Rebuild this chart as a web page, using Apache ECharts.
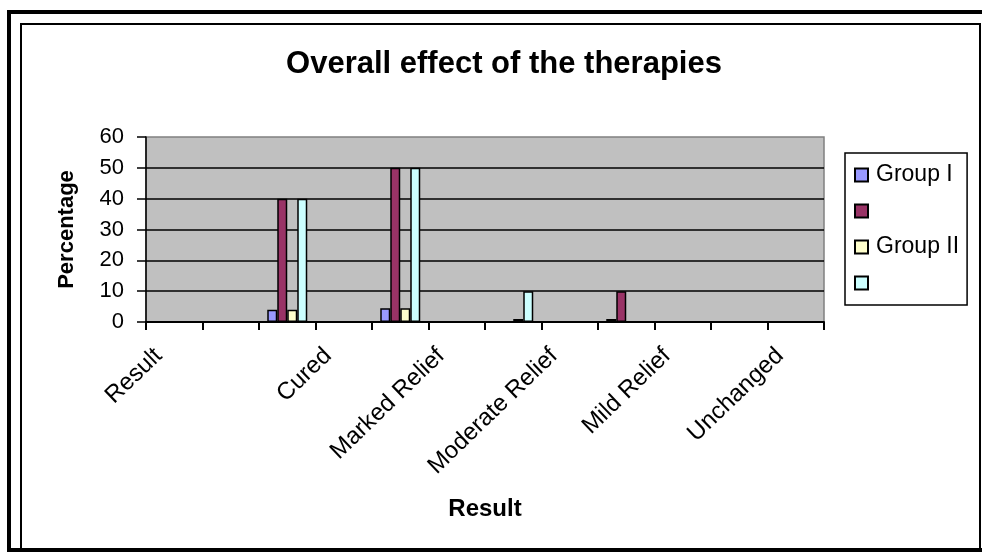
<!DOCTYPE html>
<html>
<head>
<meta charset="utf-8">
<title>Overall effect of the therapies</title>
<script src="https://cdn.jsdelivr.net/npm/echarts@6/dist/echarts.min.js"></script>
<style>
  html, body { margin: 0; padding: 0; background: #ffffff; }
  #chart { width: 982px; height: 553px; }
</style>
</head>
<body>
<div id="chart"></div>
<script>
// Twelve category slots on the x axis; labels sit on every other slot.
const tickLabels = ['Result', '', '', 'Cured', '', 'Marked Relief', '', 'Moderate Relief', '', 'Mild Relief', '', 'Unchanged'];

// Series names (two of them have no visible legend text).
const seriesNames = ['Group I', ' ', 'Group II', '  '];

// Values per slot (null = empty slot).
const groupI      = [null, null, 4,  null, 4.5, null, 0,  null, 1,  null, 0, null];
const groupIPct   = [null, null, 40, null, 50,  null, 0,  null, 10, null, 0, null];
const groupII     = [null, null, 4,  null, 4.5, null, 1,  null, 0,  null, 0, null];
const groupIIPct  = [null, null, 40, null, 50,  null, 10, null, 0,  null, 0, null];

const yTicks = { min: 0, max: 60, interval: 10 };

const seriesValues = [groupI, groupIPct, groupII, groupIIPct];
const seriesColors = ['#9999FF', '#993366', '#FFFFCC', '#CCFFFF'];

const FONT = "'Liberation Sans', Arial, sans-serif";

const chart = echarts.init(document.getElementById('chart'), null, { renderer: 'canvas' });

chart.setOption({
  backgroundColor: '#ffffff',
  animation: false,
  title: {
    text: 'Overall effect of the therapies',
    left: 499,
    top: 44,
    textAlign: 'center',
    textStyle: { fontFamily: FONT, fontSize: 31, fontWeight: 'bold', color: '#000' }
  },
  legend: {
    orient: 'vertical',
    left: 845,
    top: 153,
    data: seriesNames,
    itemWidth: 13,
    itemHeight: 13,
    itemGap: 10,
    padding: [9, 8, 9, 9],
    backgroundColor: '#ffffff',
    borderColor: '#000000',
    borderWidth: 1.5,
    borderRadius: 0,
    icon: 'rect',
    textStyle: { fontFamily: FONT, fontSize: 23, color: '#000', lineHeight: 26, padding: [0, 0, 0, 3] }
  },
  grid: {
    left: 146,
    right: 158,
    top: 137,
    bottom: 231,
    show: true,
    backgroundColor: '#C0C0C0',
    borderColor: '#808080',
    borderWidth: 1.5
  },
  xAxis: {
    type: 'category',
    data: tickLabels,
    boundaryGap: true,
    name: 'Result',
    nameLocation: 'middle',
    nameGap: 175,
    nameTextStyle: { fontFamily: FONT, fontSize: 24, fontWeight: 'bold', color: '#000' },
    axisLine: { show: true, lineStyle: { color: '#000', width: 2 } },
    axisTick: { show: true, interval: 0, length: 8, lineStyle: { color: '#000', width: 2 } },
    axisLabel: {
      interval: 0,
      rotate: 44,
      margin: 15,
      padding: [0, 22, 0, 0],
      fontFamily: FONT,
      fontSize: 24,
      color: '#000'
    },
    splitLine: { show: false }
  },
  yAxis: {
    type: 'value',
    min: yTicks.min,
    max: yTicks.max,
    interval: yTicks.interval,
    name: 'Percentage',
    nameLocation: 'middle',
    nameGap: 68,
    nameTextStyle: { fontFamily: FONT, fontSize: 22, fontWeight: 'bold', color: '#000' },
    axisLine: { show: true, lineStyle: { color: '#000', width: 1.5 } },
    axisTick: { show: true, length: 9, lineStyle: { color: '#000', width: 1.5 } },
    axisLabel: { margin: 22, fontFamily: FONT, fontSize: 22, color: '#000' },
    splitLine: { show: true, showMaxLine: false, lineStyle: { color: '#000', width: 1.5 } }
  },
  series: seriesValues.map((vals, i) => ({
    name: seriesNames[i],
    type: 'bar',
    data: vals,
    barWidth: 10,
    barGap: '0%',
    itemStyle: { color: seriesColors[i], borderColor: '#000', borderWidth: 1.5 }
  })),
  graphic: [
    // outer frame
    { type: 'rect', shape: { x: 9, y: 12, width: 990, height: 538 },
      style: { fill: 'none', stroke: '#000', lineWidth: 4 }, silent: true, z: 100 },
    // inner frame
    { type: 'rect', shape: { x: 21, y: 24, width: 959, height: 525 },
      style: { fill: 'none', stroke: '#000', lineWidth: 2 }, silent: true, z: 100 }
  ]
});
</script>
</body>
</html>
